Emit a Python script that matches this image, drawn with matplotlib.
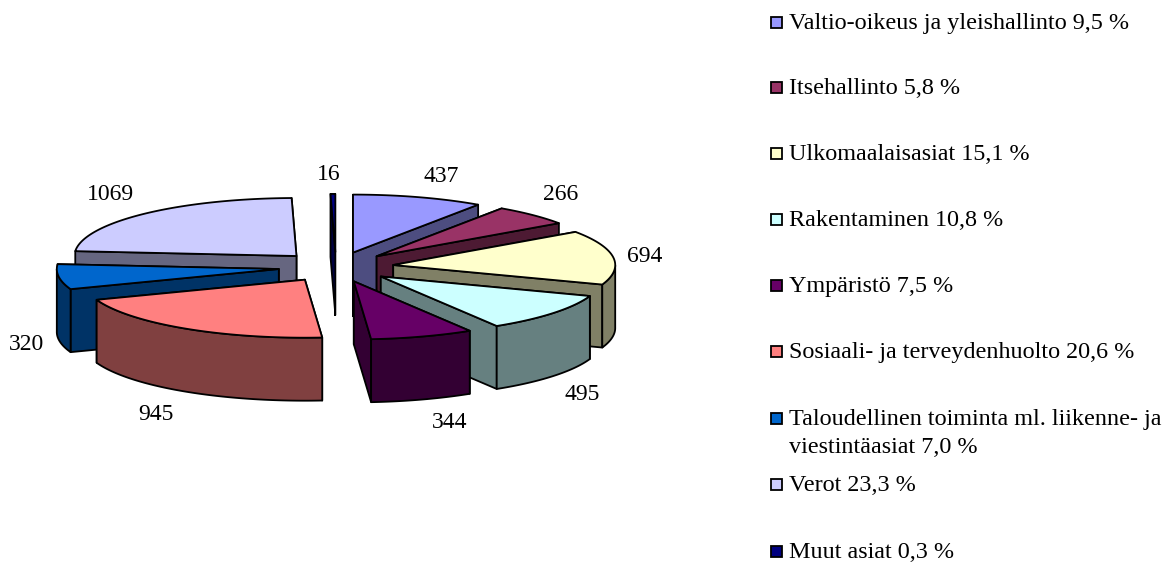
import numpy as np
import matplotlib
matplotlib.use("Agg")
import matplotlib.pyplot as plt
from matplotlib.colors import to_rgb
from matplotlib.patches import Polygon, Rectangle

plt.rcParams['font.family'] = ['Liberation Serif', 'DejaVu Serif']

categories = [
    "Valtio-oikeus ja yleishallinto 9,5 %",
    "Itsehallinto 5,8 %",
    "Ulkomaalaisasiat 15,1 %",
    "Rakentaminen 10,8 %",
    "Ympäristö 7,5 %",
    "Sosiaali- ja terveydenhuolto 20,6 %",
    "Taloudellinen toiminta ml. liikenne- ja\nviestintäasiat 7,0 %",
    "Verot 23,3 %",
    "Muut asiat 0,3 %",
]
values = [437, 266, 694, 495, 344, 945, 320, 1069, 16]
colors = ["#9999FF", "#993366", "#FFFFCC", "#CCFFFF", "#660066",
          "#FF8080", "#0066CC", "#CCCCFF", "#000080"]

# pie geometry, in pixels
cx, cy = 336, 267
rx, ry = 222, 58
depth = 63
explode = 0.26

label_pos = [(441, 176), (561, 195), (645, 257), (582, 395), (450, 422),
             (156, 415), (27, 344), (110, 195), (329, 174)]
legend_y = [22, 87, 153, 219, 285, 351, 418, 484, 551]

fig = plt.figure(figsize=(11.72, 5.65), dpi=100)
ax = fig.add_axes([0, 0, 1, 1])
ax.set_xlim(0, 1172)
ax.set_ylim(565, 0)
ax.axis("off")


def darker(c):
    return tuple(v * 0.5 for v in to_rgb(c))


def face(pts, color, z):
    ax.add_patch(Polygon(pts, closed=True, facecolor=color, edgecolor="black",
                         linewidth=1.3, joinstyle="round", zorder=z))


bounds = np.cumsum([0] + values) / sum(values) * 2 * np.pi
mids = (bounds[:-1] + bounds[1:]) / 2
order = np.argsort(-np.cos(mids))

for z, i in enumerate(order):
    a0, a1 = bounds[i], bounds[i + 1]
    ox = cx + explode * rx * np.sin(mids[i])
    oy = cy - explode * ry * np.cos(mids[i])
    t = np.linspace(a0, a1, 80)
    rim = np.column_stack([ox + rx * np.sin(t), oy - ry * np.cos(t)])
    apex = np.array([ox, oy])
    down = np.array([0, depth])
    side = darker(colors[i])
    base = z * 10

    # radial walls first, the one further back goes down first
    for a in sorted((a0, a1), key=lambda x: -np.cos(x)):
        p = apex + [rx * np.sin(a), -ry * np.cos(a)]
        face([apex, p, p + down, apex + down], side, base)

    # outer wall, only the part that faces the viewer
    front = rim[np.cos(t) <= 0]
    if len(front) > 1:
        face(np.vstack([front, (front + down)[::-1]]), side, base + 1)

    face(np.vstack([apex, rim]), colors[i], base + 2)

for v, (x, y) in zip(values, label_pos):
    ax.text(x, y, str(v), fontsize=17, ha="center", va="center",
            color="black", zorder=200)

for name, c, y in zip(categories, colors, legend_y):
    ax.add_patch(Rectangle((770.5, y - 5.5), 11, 11, facecolor=c, edgecolor="black",
                           linewidth=1.3, zorder=200))
    ax.text(789, y - 9, name, fontsize=17.35, ha="left", va="top", color="black",
            linespacing=1.42, zorder=200)

fig.savefig("out.png", dpi=100)
